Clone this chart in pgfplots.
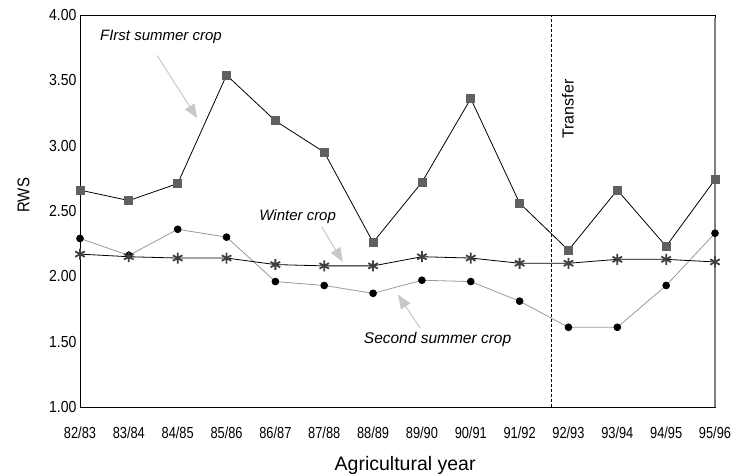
\documentclass[border=0pt]{standalone}
\usepackage{fontspec}
\setmainfont{Liberation Sans}
\newfontfamily\narrowfont[FakeStretch=0.8]{Liberation Sans}
\newfontfamily\semifont[FakeStretch=0.88]{Liberation Sans}
\usepackage{pgfplots}
\pgfplotsset{compat=1.18}
\usetikzlibrary{arrows.meta}
\definecolor{sqgray}{HTML}{606060}
\definecolor{lngray}{HTML}{9A9A9A}
\definecolor{arrgray}{HTML}{C8C8C8}
\definecolor{stargray}{HTML}{404040}
\begin{document}
\begin{tikzpicture}
\begin{axis}[
  scale only axis,
  width=635pt, height=392pt,
  xmin=0, xmax=13, ymin=1, ymax=4,
  xtick={0,...,13},
  xticklabels={82/83,83/84,84/85,85/86,86/87,87/88,88/89,89/90,90/91,91/92,92/93,93/94,94/95,95/96},
  ytick={1,1.5,2,2.5,3,3.5,4},
  /pgf/number format/assume math mode=true,
  yticklabel style={font=\semifont\fontsize{16}{16}\selectfont, /pgf/number format/.cd,fixed,fixed zerofill,precision=2},
  xticklabel style={font=\narrowfont\fontsize{16}{16}\selectfont, yshift=-16pt},
  major tick length=0pt,
  axis line style={black, line width=0.8pt},
  clip=false,
  xlabel={Agricultural year},
  ylabel={RWS},
  xlabel style={at={(axis description cs:0.512,-0.148)}, anchor=center, font=\fontsize{19.5}{19.5}\selectfont},
  ylabel style={at={(axis description cs:-0.0890,0.54)}, anchor=center, font=\semifont\fontsize{17}{17}\selectfont},
]
% transfer line
\draw[densely dashed, black, line width=0.7pt] (axis cs:9.64,1) -- (axis cs:9.64,4);
\node[rotate=90, anchor=center, font=\fontsize{16}{16}\selectfont] at (axis cs:9.99,3.28) {Transfer};
% right gray border
\draw[gray, line width=2pt] (axis cs:13,1) -- (axis cs:13,3.98);

% Second summer crop
\addplot[lngray, line width=0.8pt, mark=*, mark size=3.4pt, mark options={black, fill=black}] coordinates {
(0,2.29)(1,2.16)(2,2.36)(3,2.30)(4,1.96)(5,1.93)(6,1.87)(7,1.97)(8,1.96)(9,1.81)(10,1.61)(11,1.61)(12,1.93)(13,2.33)};
% Winter crop
\addplot[black, line width=0.8pt, mark=asterisk, mark size=5.5pt, mark options={stargray, line width=1.8pt}] coordinates {
(0,2.17)(1,2.15)(2,2.14)(3,2.14)(4,2.09)(5,2.08)(6,2.08)(7,2.15)(8,2.14)(9,2.10)(10,2.10)(11,2.13)(12,2.13)(13,2.11)};
% First summer crop
\addplot[black, line width=0.8pt, mark=square*, mark size=4pt, mark options={sqgray, fill=sqgray}] coordinates {
(0,2.66)(1,2.58)(2,2.71)(3,3.54)(4,3.19)(5,2.95)(6,2.26)(7,2.72)(8,3.36)(9,2.56)(10,2.20)(11,2.66)(12,2.23)(13,2.74)};

% annotations
\node[anchor=west, font=\itshape\fontsize{15}{15}\selectfont] at (axis cs:0.34,3.83) {FIrst summer crop};
\draw[arrgray, line width=1pt, -{Triangle[length=14pt,width=11pt]}] (axis cs:1.58,3.69) -- (axis cs:2.40,3.21);
\node[anchor=west, font=\itshape\fontsize{15}{15}\selectfont] at (axis cs:3.60,2.455) {Winter crop};
\draw[arrgray, line width=1pt, -{Triangle[length=14pt,width=11pt]}] (axis cs:4.95,2.38) -- (axis cs:5.38,2.11);
\node[anchor=west, font=\itshape\fontsize{15.5}{15.5}\selectfont] at (axis cs:5.74,1.513) {Second summer crop};
\draw[arrgray, line width=1pt, -{Triangle[length=14pt,width=11pt]}] (axis cs:6.96,1.605) -- (axis cs:6.51,1.86);
\end{axis}
\pgfresetboundingbox
\useasboundingbox (-80pt,-69pt) rectangle (653pt,407pt);
\end{tikzpicture}
\end{document}
